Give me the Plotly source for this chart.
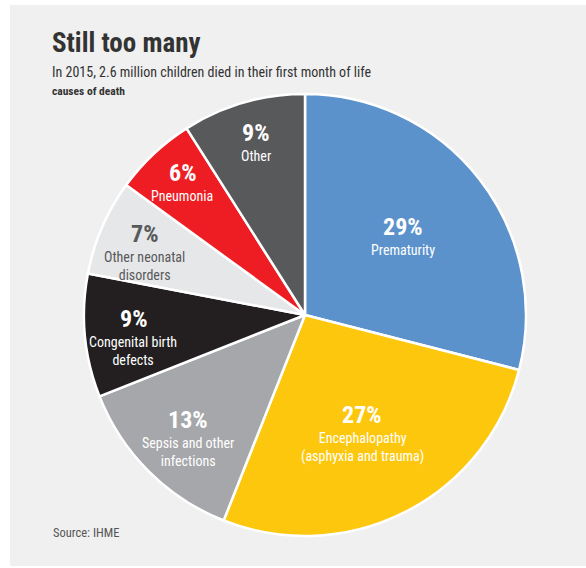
import math
import plotly.graph_objects as go

# ---- data ----
causes = ["Prematurity", "Encephalopathy<br>(asphyxia and trauma)", "Sepsis and other<br>infections",
          "Congenital birth<br>defects", "Other neonatal<br>disorders", "Pneumonia", "Other"]
shares = [29, 27, 13, 9, 7, 6, 9]
colors = ["#5b92cb", "#fdc70d", "#a6a7aa", "#231f20", "#e6e7e8", "#ee1d24", "#58595b"]
text_colors = ["white", "white", "white", "white", "#58595b", "white", "white"]
label_r = [0.56, 0.57, 0.75, 0.78, 0.79, 0.81, 0.80]

W, H = 586, 568
CX, CY, R = 305, 315, 221
FONT = "Roboto Condensed, Roboto, sans-serif"

def px(x):
    return x / W

def py(y):
    return 1 - y / H

fig = go.Figure()
fig.add_trace(go.Pie(
    labels=causes, values=shares, sort=False, direction="clockwise", rotation=0,
    marker=dict(colors=colors, line=dict(color="white", width=2.5)),
    textinfo="none", hoverinfo="label+percent", showlegend=False,
    domain=dict(x=[px(CX - R), px(CX + R)], y=[py(CY + R), py(CY - R)]),
))

annotations = []
total = sum(shares)
cum = 0
for name, v, tc, rf in zip(causes, shares, text_colors, label_r):
    mid = (cum + v / 2) / total * 2 * math.pi
    cum += v
    x = CX + rf * R * math.sin(mid)
    y = CY - rf * R * math.cos(mid)
    annotations.append(dict(x=px(x), y=py(y - 12), xref="paper", yref="paper", text=f"<b>{v}%</b>",
                            showarrow=False, xanchor="center", yanchor="middle",
                            font=dict(family=FONT, size=24, color=tc)))
    annotations.append(dict(x=px(x), y=py(y + 1), xref="paper", yref="paper", text=name,
                            showarrow=False, xanchor="center", yanchor="top",
                            font=dict(family=FONT, size=14, color=tc)))

annotations += [
    dict(x=px(50), y=py(43), xref="paper", yref="paper", text="<b>Still too many</b>", showarrow=False,
         xanchor="left", yanchor="middle", font=dict(family=FONT, size=27, color="#333333")),
    dict(x=px(50), y=py(72), xref="paper", yref="paper",
         text="In 2015, 2.6 million children died in their first month of life", showarrow=False,
         xanchor="left", yanchor="middle", font=dict(family=FONT, size=14, color="#333333")),
    dict(x=px(50), y=py(91), xref="paper", yref="paper", text="<b>causes of death</b>", showarrow=False,
         xanchor="left", yanchor="middle", font=dict(family=FONT, size=11.5, color="#333333")),
    dict(x=px(51), y=py(532), xref="paper", yref="paper", text="Source: IHME", showarrow=False,
         xanchor="left", yanchor="middle", font=dict(family=FONT, size=12.5, color="#555555")),
]

fig.update_layout(
    width=W, height=H, margin=dict(l=0, r=0, t=0, b=0),
    paper_bgcolor="white", plot_bgcolor="white",
    annotations=annotations,
    shapes=[dict(type="rect", xref="paper", yref="paper", x0=px(10), x1=1, y0=py(566), y1=py(5),
                 fillcolor="#f0f0f0", line=dict(width=0), layer="below")],
)
fig.write_html("out.html")
